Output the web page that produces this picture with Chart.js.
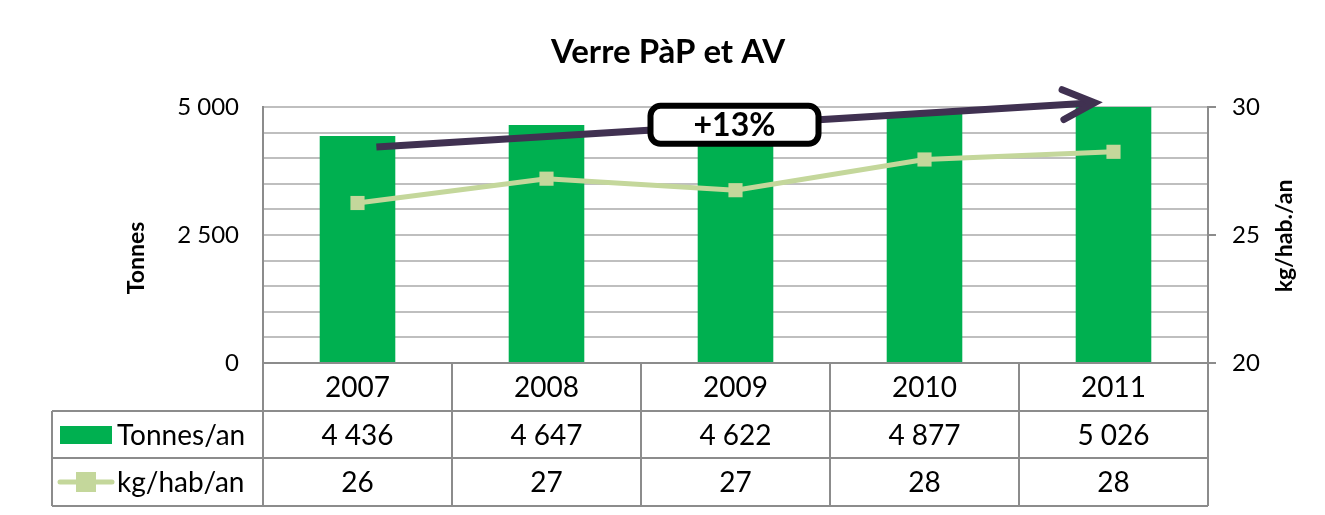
<!DOCTYPE html>
<html lang="fr">
<head>
  <meta charset="UTF-8">
  <title>Verre PàP et AV</title>
  <script src="https://cdn.jsdelivr.net/npm/chart.js"></script>
  <style>
    body { margin: 0; background: #fff; }
    #wrap { width: 1325px; height: 515px; }
  </style>
</head>
<body>
  <div id="wrap"><canvas id="chart" width="1325" height="515"></canvas></div>

  <script>
    const years = ['2007', '2008', '2009', '2010', '2011'];
    const tonnes = [4436, 4647, 4622, 4877, 5026];
    const kgHab = [26.25, 27.2, 26.75, 27.95, 28.25];
    const kgHabShown = [26, 27, 27, 28, 28];
    const leftTickLabels = [0, 2500, 5000];
    const rightTickLabels = [20, 25, 30];
    const trendStart = [0.1, 4220];   // [category index, tonnes]
    const trendEnd = [3.9, 5085];
    const trendText = '+13%';

    const FONT = 'Lato, "Open Sans", sans-serif';
    const GREEN = '#00B050';
    const LIGHT = '#C4D79B';
    const GRID = '#BFBFBF';
    const AXIS = '#8C8C8C';

    function fmt(v) {
      return String(v).replace(/\B(?=(\d{3})+(?!\d))/g, ' ');
    }

    const extras = {
      id: 'extras',
      afterDraw(chart) {
        const ctx = chart.ctx;
        const x = chart.scales.x, y = chart.scales.y;
        const area = chart.chartArea;
        const colW = (area.right - area.left) / years.length;
        const tableLeft = 52;
        const rows = [area.bottom, 411, 458, 506];

        ctx.save();

        // title
        ctx.fillStyle = '#000';
        ctx.font = 'bold 33px ' + FONT;
        ctx.textAlign = 'center';
        ctx.textBaseline = 'middle';
        ctx.fillText('Verre PàP et AV', 668, 52);

        // axis titles
        ctx.font = 'bold 23px ' + FONT;
        ctx.save();
        ctx.translate(137, 258);
        ctx.rotate(-Math.PI / 2);
        ctx.fillText('Tonnes', 0, 0);
        ctx.restore();
        ctx.save();
        ctx.translate(1285, 236);
        ctx.rotate(-Math.PI / 2);
        ctx.fillText('kg/hab./an', 0, 0);
        ctx.restore();

        // data table
        ctx.strokeStyle = AXIS;
        ctx.lineWidth = 2;
        ctx.beginPath();
        ctx.moveTo(area.left, rows[0]); ctx.lineTo(area.right, rows[0]);
        ctx.moveTo(tableLeft, rows[1]); ctx.lineTo(area.right, rows[1]);
        ctx.moveTo(tableLeft, rows[2]); ctx.lineTo(area.right, rows[2]);
        ctx.moveTo(tableLeft, rows[3]); ctx.lineTo(area.right, rows[3]);
        ctx.moveTo(tableLeft, rows[1]); ctx.lineTo(tableLeft, rows[3]);
        for (let i = 0; i <= years.length; i++) {
          const lx = area.left + i * colW;
          ctx.moveTo(lx, rows[0]); ctx.lineTo(lx, rows[3]);
        }
        ctx.stroke();

        ctx.fillStyle = '#000';
        ctx.font = '28px ' + FONT;
        ctx.textAlign = 'center';
        years.forEach((yr, i) => {
          const cx = x.getPixelForValue(i);
          ctx.fillText(yr, cx, (rows[0] + rows[1]) / 2 + 1);
          ctx.fillText(fmt(tonnes[i]), cx, (rows[1] + rows[2]) / 2 + 1);
          ctx.fillText(String(kgHabShown[i]), cx, (rows[2] + rows[3]) / 2 + 1);
        });

        // legend keys
        ctx.fillStyle = GREEN;
        ctx.fillRect(60, 426, 52, 18);
        ctx.strokeStyle = LIGHT;
        ctx.lineWidth = 5;
        ctx.lineCap = 'round';
        ctx.beginPath();
        ctx.moveTo(60, 482); ctx.lineTo(112, 482);
        ctx.stroke();
        ctx.fillStyle = LIGHT;
        ctx.fillRect(76, 472, 20, 20);
        ctx.fillStyle = '#000';
        ctx.textAlign = 'left';
        ctx.fillText('Tonnes/an', 117, (rows[1] + rows[2]) / 2 + 1);
        ctx.fillText('kg/hab/an', 117, (rows[2] + rows[3]) / 2 + 1);

        // trend arrow
        const x0 = x.getPixelForValue(trendStart[0]), y0 = y.getPixelForValue(trendStart[1]);
        const x1 = x.getPixelForValue(trendEnd[0]), y1 = y.getPixelForValue(trendEnd[1]);
        const ang = Math.atan2(y1 - y0, x1 - x0);
        ctx.strokeStyle = '#403151';
        ctx.lineWidth = 7;
        ctx.lineCap = 'butt';
        ctx.beginPath();
        ctx.moveTo(x0, y0); ctx.lineTo(x1 - 4 * Math.cos(ang), y1 - 4 * Math.sin(ang));
        ctx.stroke();
        ctx.lineCap = 'round';
        ctx.lineJoin = 'miter';
        ctx.beginPath();
        ctx.moveTo(x1 - 35 * Math.cos(ang - 0.44), y1 - 35 * Math.sin(ang - 0.44));
        ctx.lineTo(x1, y1);
        ctx.lineTo(x1 - 35 * Math.cos(ang + 0.44), y1 - 35 * Math.sin(ang + 0.44));
        ctx.stroke();

        // +13% label on the arrow
        const bx = x.getPixelForValue(2) - 1;
        const by = y0 + (y1 - y0) * (bx - x0) / (x1 - x0);
        const bw = 168, bh = 38;
        ctx.fillStyle = '#fff';
        ctx.strokeStyle = '#000';
        ctx.lineWidth = 6;
        ctx.beginPath();
        ctx.roundRect(bx - bw / 2, by - bh / 2, bw, bh, 10);
        ctx.fill();
        ctx.stroke();
        ctx.fillStyle = '#000';
        ctx.font = 'bold 32px ' + FONT;
        ctx.textAlign = 'center';
        ctx.fillText(trendText, bx, by + 1);

        ctx.restore();
      }
    };

    new Chart(document.getElementById('chart'), {
      data: {
        labels: years,
        datasets: [
          {
            type: 'line',
            label: 'kg/hab/an',
            data: kgHab,
            yAxisID: 'y1',
            borderColor: LIGHT,
            backgroundColor: LIGHT,
            borderWidth: 5,
            pointStyle: 'rect',
            pointRadius: 10,
            pointBorderWidth: 0,
            tension: 0,
            order: 0
          },
          {
            type: 'bar',
            label: 'Tonnes/an',
            data: tonnes,
            yAxisID: 'y',
            backgroundColor: GREEN,
            barPercentage: 0.4,
            categoryPercentage: 1,
            order: 1
          }
        ]
      },
      options: {
        responsive: false,
        animation: false,
        layout: { padding: { left: 0, right: 0, top: 107, bottom: 152 } },
        plugins: {
          legend: { display: false },
          tooltip: { enabled: false },
          title: { display: false }
        },
        scales: {
          x: { display: false },
          y: {
            position: 'left',
            min: 0,
            max: 5000,
            afterFit: s => { s.width = 263; },
            ticks: {
              stepSize: 500,
              autoSkip: false,
              padding: 24,
              color: '#000',
              font: { family: FONT, size: 24 },
              callback: v => (leftTickLabels.includes(v) ? fmt(v) : '')
            },
            grid: { color: GRID, lineWidth: 2, drawTicks: false },
            border: { color: AXIS, width: 2 }
          },
          y1: {
            position: 'right',
            min: 20,
            max: 30,
            afterFit: s => { s.width = 117; },
            ticks: {
              stepSize: 5,
              autoSkip: false,
              padding: 16,
              color: '#000',
              font: { family: FONT, size: 24 },
              callback: v => (rightTickLabels.includes(v) ? String(v) : '')
            },
            grid: { drawOnChartArea: false, color: AXIS, lineWidth: 2, tickLength: 8 },
            border: { color: AXIS, width: 2 }
          }
        }
      },
      plugins: [extras]
    });
  </script>
</body>
</html>
